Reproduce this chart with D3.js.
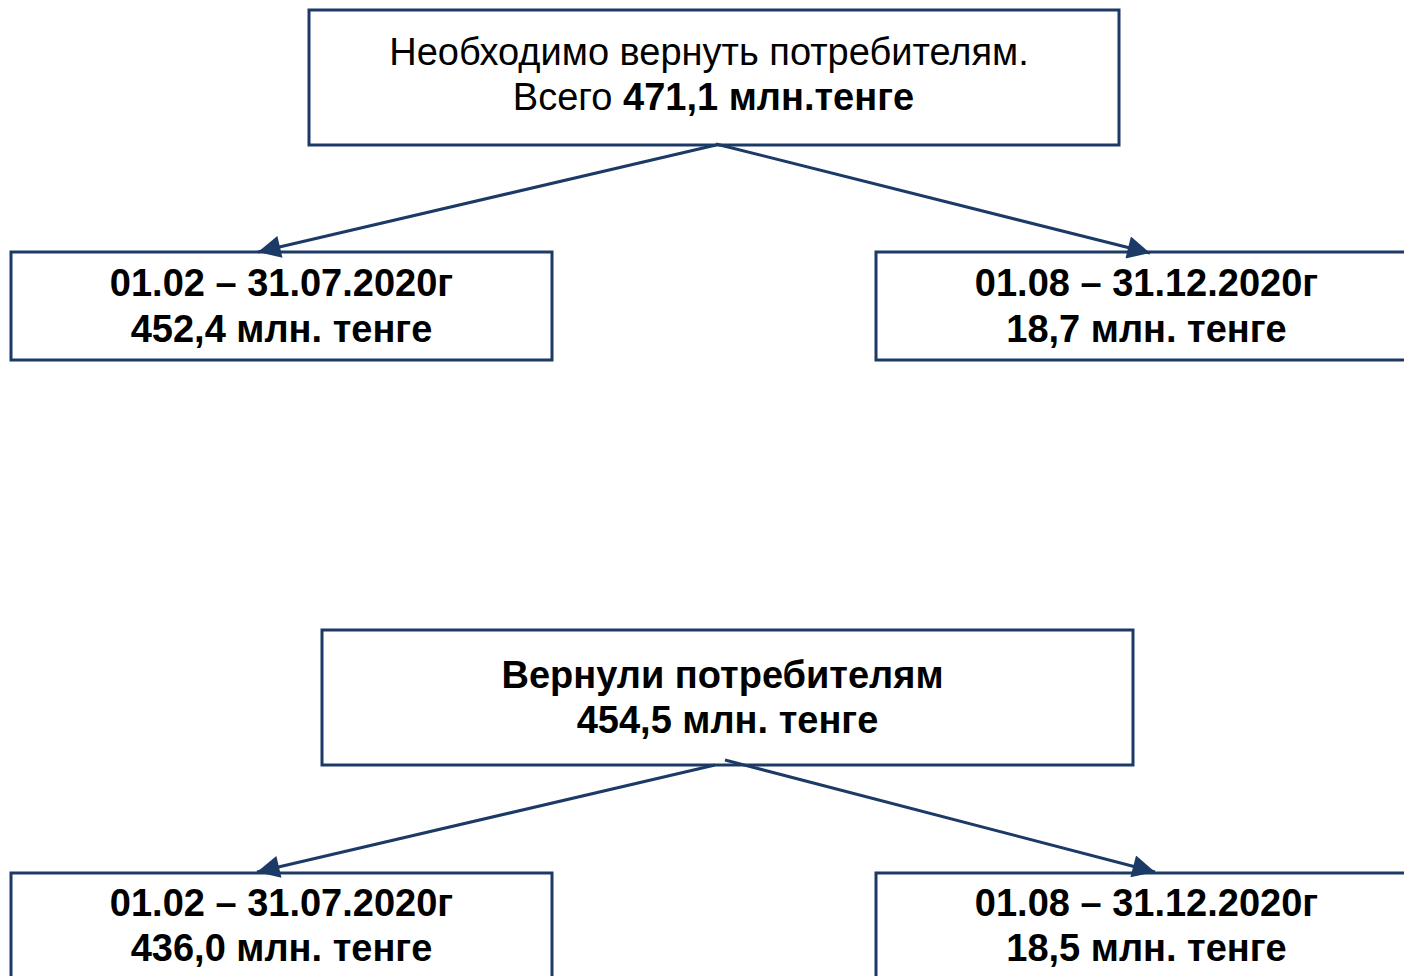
<!DOCTYPE html>
<html><head><meta charset="utf-8">
<script src="https://cdn.jsdelivr.net/npm/d3@7/dist/d3.min.js"></script>
<style>html,body{margin:0;padding:0;background:#fff;overflow:hidden}</style>
</head><body>
<script>
// ---- data ----
const topTitle = ["Необходимо вернуть потребителям."];
const topTotalPrefix = ["Всего "];
const topTotal = ["471,1 млн.тенге"];
const periods = ["01.02 – 31.07.2020г", "01.08 – 31.12.2020г"];
const dueAmounts = ["452,4 млн. тенге", "18,7 млн. тенге"];
const bottomTitle = ["Вернули потребителям"];
const bottomTotal = ["454,5 млн. тенге"];
const paidAmounts = ["436,0 млн. тенге", "18,5 млн. тенге"];

// ---- layout ----
const W = 1404, H = 976, C = "#1c3a66";
const svg = d3.select("body").append("svg").attr("width", W).attr("height", H);
svg.append("defs").append("marker").attr("id","ah")
  .attr("viewBox","0 0 10 10").attr("refX",10).attr("refY",5)
  .attr("markerWidth",11).attr("markerHeight",7.5).attr("markerUnits","strokeWidth")
  .attr("orient","auto")
  .append("path").attr("d","M0,0 L10,5 L0,10 Z").attr("fill",C);

const FONT = "'Liberation Sans', Arial, sans-serif";
const FS = 38;
function box(x,y,w,h){
  svg.append("rect").attr("x",x).attr("y",y).attr("width",w).attr("height",h)
    .attr("fill","none").attr("stroke",C).attr("stroke-width",3);
}
function line(x1,y1,x2,y2){
  svg.append("line").attr("x1",x1).attr("y1",y1).attr("x2",x2).attr("y2",y2)
    .attr("stroke",C).attr("stroke-width",3).attr("marker-end","url(#ah)");
}
function txt(cx,y,parts){
  const t = svg.append("text").attr("x",cx).attr("y",y).attr("text-anchor","middle")
    .attr("font-family",FONT).attr("font-size",FS).attr("fill","#000");
  parts.forEach(p => t.append("tspan").attr("font-weight",p.b?"bold":"normal").text(p.t));
}

// arrows first (under boxes)
line(716,145,258,252);
line(716,144,1150,253);
line(715,765,257,872);
line(725,760,1155,872);

// top group
box(309,10,810,135);
txt(709,65,[{t:topTitle[0]}]);
txt(713.5,110,[{t:topTotalPrefix[0]},{t:topTotal[0],b:true}]);
const childX = [11,876], childW = 541;
periods.forEach((p,i)=>{
  box(childX[i],252,childW,108);
  txt(childX[i]+childW/2,296,[{t:p,b:true}]);
  txt(childX[i]+childW/2,342,[{t:dueAmounts[i],b:true}]);
});

// bottom group
box(322,630,811,135);
txt(722.5,688,[{t:bottomTitle[0],b:true}]);
txt(727.5,733,[{t:bottomTotal[0],b:true}]);
periods.forEach((p,i)=>{
  box(childX[i],873,childW,120);
  txt(childX[i]+childW/2,916,[{t:p,b:true}]);
  txt(childX[i]+childW/2,961,[{t:paidAmounts[i],b:true}]);
});
</script>
</body></html>
